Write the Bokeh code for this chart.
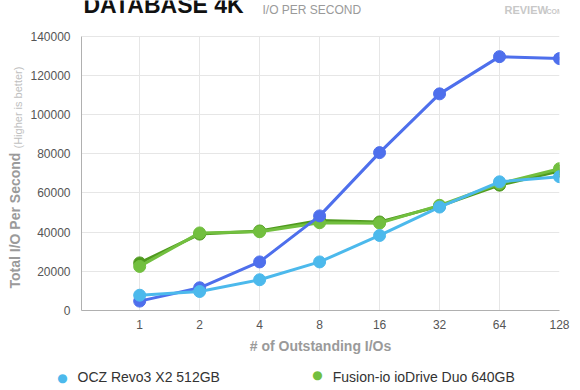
import numpy as np
from bokeh.plotting import figure
from bokeh.models import (FixedTicker, Label, Grid, NumeralTickFormatter,
                          ColumnDataSource)
from bokeh.embed import file_html
from bokeh.resources import INLINE

# ---------------- data ----------------
outstanding_ios = [1, 2, 4, 8, 16, 32, 64, 128]
tick_labels = ["1", "2", "4", "8", "16", "32", "64", "128"]

ocz_revo3_x2 = [7800, 9700, 15700, 24800, 38300, 52800, 65700, 68300]
fusion_iodrive_duo = [22500, 39600, 40200, 44800, 44600, 53700, 64800, 72400]
series_royal = [4800, 11600, 24800, 48300, 80600, 110600, 129600, 128600]
series_dark_green = [24300, 39000, 40600, 46000, 45200, 53300, 64000, 71200]

y_ticks = [0, 20000, 40000, 60000, 80000, 100000, 120000, 140000]
y_max = 140000

legend_names = ["OCZ Revo3 X2 512GB", "Fusion-io ioDrive Duo 640GB"]
C_LIGHT_BLUE, C_GREEN = "#4cb9ec", "#72bf3f"

# ---------------- layout ----------------
W, H = 576, 386
FL, FR, PT, FB = 81, 559, 36, 312      # plot-box edges in canvas pixels
# the frame reaches the canvas top so that the title can sit inside it
Y_TOP = y_max * FB / (FB - PT)

xpos = list(np.log2(outstanding_ios))

p = figure(width=W, height=H, output_backend="svg", toolbar_location=None,
           title=None, x_range=(-0.97, 7.0), y_range=(0, Y_TOP),
           min_border_left=FL, min_border_right=W - FR, min_border_top=0,
           min_border_bottom=H - FB)
p.background_fill_color = "white"
p.border_fill_color = "white"
p.outline_line_color = None

FONT = "Liberation Sans"

# axes
p.xaxis.ticker = FixedTicker(ticks=xpos)
p.xaxis.major_label_overrides = {float(x): t for x, t in zip(xpos, tick_labels)}
p.yaxis.ticker = FixedTicker(ticks=y_ticks)
p.yaxis.formatter = NumeralTickFormatter(format="0")
p.yaxis.bounds = (0, y_max)
for ax in (p.xaxis[0], p.yaxis[0]):
    ax.axis_line_color = "#b0b0b0"
    ax.axis_line_width = 1
    ax.major_tick_line_color = None
    ax.minor_tick_line_color = None
    ax.major_tick_out = 0
    ax.major_tick_in = 0
    ax.minor_tick_out = 0
    ax.minor_tick_in = 0
    ax.major_label_text_font = FONT
    ax.major_label_text_font_size = "12px"
    ax.major_label_text_color = "#555555"
p.yaxis.major_label_standoff = 11
p.xaxis.major_label_standoff = 9

p.xaxis.axis_label = "# of Outstanding I/Os"
p.xaxis.axis_label_text_font = FONT
p.xaxis.axis_label_text_font_size = "14px"
p.xaxis.axis_label_text_font_style = "bold"
p.xaxis.axis_label_text_color = "#9a9a9a"
p.xaxis.axis_label_standoff = 6

# grids
p.ygrid.ticker = FixedTicker(ticks=y_ticks)
p.ygrid.grid_line_color = "#e6e6e6"
p.xgrid.ticker = FixedTicker(ticks=xpos[:-1])
p.xgrid.grid_line_color = "#e6e6e6"
p.xgrid.cross_bounds = (0, y_max)
right_edge = Grid(dimension=0, ticker=FixedTicker(ticks=xpos[-1:]),
                  grid_line_color="#c4c4c4", cross_bounds=(0, y_max))
p.add_layout(right_edge)

# series (draw order: dark green, light green, royal blue, light blue)
series = [
    (series_dark_green, "#4f9a1e"),
    (fusion_iodrive_duo, C_GREEN),
    (series_royal, "#4e6fec"),
    (ocz_revo3_x2, C_LIGHT_BLUE),
]
for vals, col in series:
    src = ColumnDataSource(dict(x=xpos, y=vals))
    p.line("x", "y", source=src, line_color=col, line_width=3)
    p.scatter("x", "y", source=src, size=12, fill_color=col, line_color=col)

# titles inside the (tall) frame: offsets from the frame's bottom-left corner
def add_top(px, py, text, **kw):
    p.add_layout(Label(x=px - FL, y=FB - py, x_units="screen", y_units="screen",
                       text=text, text_font=FONT, text_baseline="middle", **kw))

add_top(83, 6, "DATABASE 4K", text_font_size="23px", text_font_style="bold",
        text_color="#111111")
add_top(262, 11, "I/O PER SECOND", text_font_size="12px", text_color="#9a9a9a")
add_top(504, 11, "REVIEW", text_font_size="11px", text_font_style="bold",
        text_color="#c8c8c8")
add_top(546, 12.5, "COM", text_font_size="7px", text_font_style="bold",
        text_color="#c8c8c8")

# y axis title (rotated): main part in the left panel, note in the right panel
p.add_layout(Label(x=3, y=FB - 290, x_units="screen", y_units="screen",
                   angle=np.pi / 2, text="Total I/O Per Second",
                   text_font=FONT, text_font_size="14px", text_font_style="bold",
                   text_color="#9a9a9a", text_align="left",
                   text_baseline="middle"), "left")
p.add_layout(Label(x=17 - FR, y=FB - 150, x_units="screen", y_units="screen",
                   angle=np.pi / 2, text="(Higher is better)",
                   text_font=FONT, text_font_size="11px", text_color="#c0c0c0",
                   text_align="left", text_baseline="middle"), "right")

# legend row below the axis (labels in side panels, which are not clipped)
LEG_Y = 376
gap = "\u00a0" * 29
p.add_layout(Label(x=77 - FL, y=(FB + 60) - LEG_Y, x_units="screen",
                   y_units="screen", text=legend_names[0] + gap + legend_names[1],
                   text_font=FONT, text_font_size="14px", text_color="#333333",
                   text_baseline="middle"), "below")
p.add_layout(Label(x=62 - FL, y=(FB + 73) - LEG_Y, x_units="screen",
                   y_units="screen", text="\u25cf", text_font="DejaVu Sans",
                   text_font_size="12px", text_color=C_LIGHT_BLUE,
                   text_align="center", text_baseline="middle"), "below")
p.add_layout(Label(x=316, y=FB - LEG_Y, x_units="screen", y_units="screen",
                   text="\u25cf", text_font="DejaVu Sans", text_font_size="12px",
                   text_color=C_GREEN, text_align="center",
                   text_baseline="middle"), "left")

open("out.html", "w").write(file_html(p, INLINE))
